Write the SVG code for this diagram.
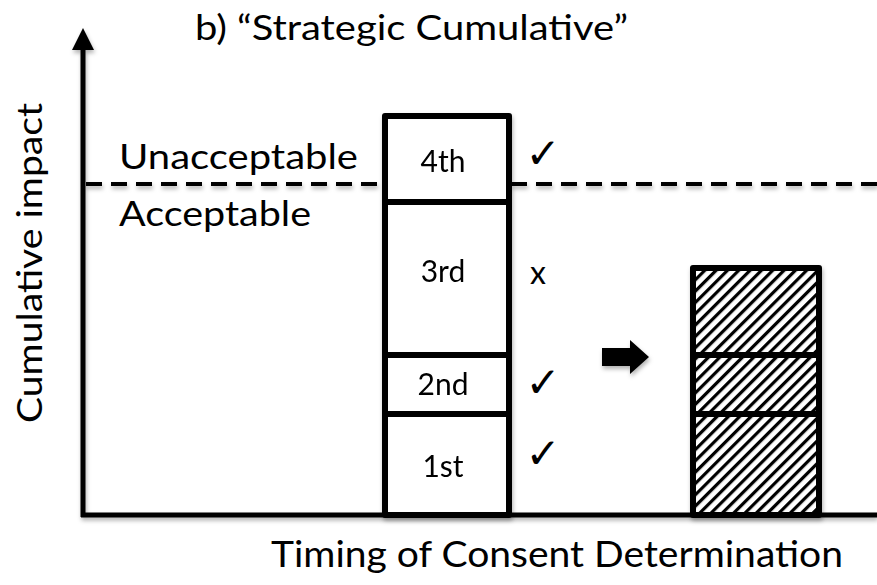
<svg xmlns="http://www.w3.org/2000/svg" width="877" height="585" viewBox="0 0 877 585">
<style>
.t{font-family:Lato,"Open Sans","Liberation Sans",sans-serif;fill:#000}
.big{font-size:35px}
.lbl{font-size:30px;text-anchor:middle}
.mk{font-family:"DejaVu Sans",sans-serif;font-size:42px;text-anchor:middle;font-weight:bold}
.box{fill:#fff;stroke:#000;stroke-width:6;stroke-linejoin:round}
.hbox{fill:url(#hatch);stroke:#000;stroke-width:6;stroke-linejoin:round}
.ax{stroke:#000;stroke-width:5;fill:none}
</style>
<defs>
<pattern id="hatch" patternUnits="userSpaceOnUse" width="8" height="8" patternTransform="rotate(45)">
<rect width="8" height="8" fill="#fff"/>
<rect x="0" y="0" width="3.2" height="8" fill="#000"/>
</pattern>
<filter id="sh" x="-10%" y="-10%" width="120%" height="130%">
<feDropShadow dx="1" dy="3" stdDeviation="2" flood-color="#000" flood-opacity="0.3"/>
</filter>
</defs>
<rect width="877" height="585" fill="#fff"/>
<text class="t big" x="195" y="40" textLength="433" lengthAdjust="spacingAndGlyphs">b) “Strategic Cumulative”</text>
<text class="t big" transform="translate(42,263) rotate(-90)" text-anchor="middle" textLength="320" lengthAdjust="spacingAndGlyphs">Cumulative impact</text>
<text class="t big" x="119" y="169" textLength="239" lengthAdjust="spacingAndGlyphs">Unacceptable</text>
<text class="t big" x="119" y="226" textLength="192" lengthAdjust="spacingAndGlyphs">Acceptable</text>
<text class="t" style="font-size:36px" x="271" y="567" textLength="572" lengthAdjust="spacingAndGlyphs">Timing of Consent Determination</text>
<g id="connectors" filter="url(#sh)">
<line class="ax" x1="83" y1="517" x2="83" y2="48"/>
<polygon points="72,50 94,50 83,28" fill="#000"/>
<line class="ax" x1="81" y1="515" x2="877" y2="515"/>
<line x1="86" y1="184" x2="877" y2="184" stroke="#000" stroke-width="4" stroke-dasharray="16,9"/>
<polygon points="602,348 630,348 630,340 649,357 630,374 630,366 602,366" fill="#000"/>
</g>
<g id="bar1" filter="url(#sh)">
<g id="b1st"><rect class="box" x="385" y="414" width="124" height="101"/><text class="t lbl" x="443" y="477">1st</text></g>
<g id="b2nd"><rect class="box" x="385" y="355" width="124" height="59"/><text class="t lbl" x="443" y="395">2nd</text></g>
<g id="b3rd"><rect class="box" x="385" y="202" width="124" height="153"/><text class="t lbl" x="443" y="282">3rd</text></g>
<g id="b4th"><rect class="box" x="385" y="116" width="124" height="86"/><text class="t lbl" x="443" y="172">4th</text></g>
</g>
<g id="marks">
<text class="mk" x="543" y="168">✓</text>
<text class="t" style="font-size:32px;text-anchor:middle" x="538" y="284">x</text>
<text class="mk" x="543" y="397">✓</text>
<text class="mk" x="543" y="468">✓</text>
</g>
<g id="bar2" filter="url(#sh)">
<rect class="hbox" x="693" y="414" width="126" height="101"/>
<rect class="hbox" x="693" y="355" width="126" height="59"/>
<rect class="hbox" x="693" y="268" width="126" height="87"/>
</g>
</svg>
